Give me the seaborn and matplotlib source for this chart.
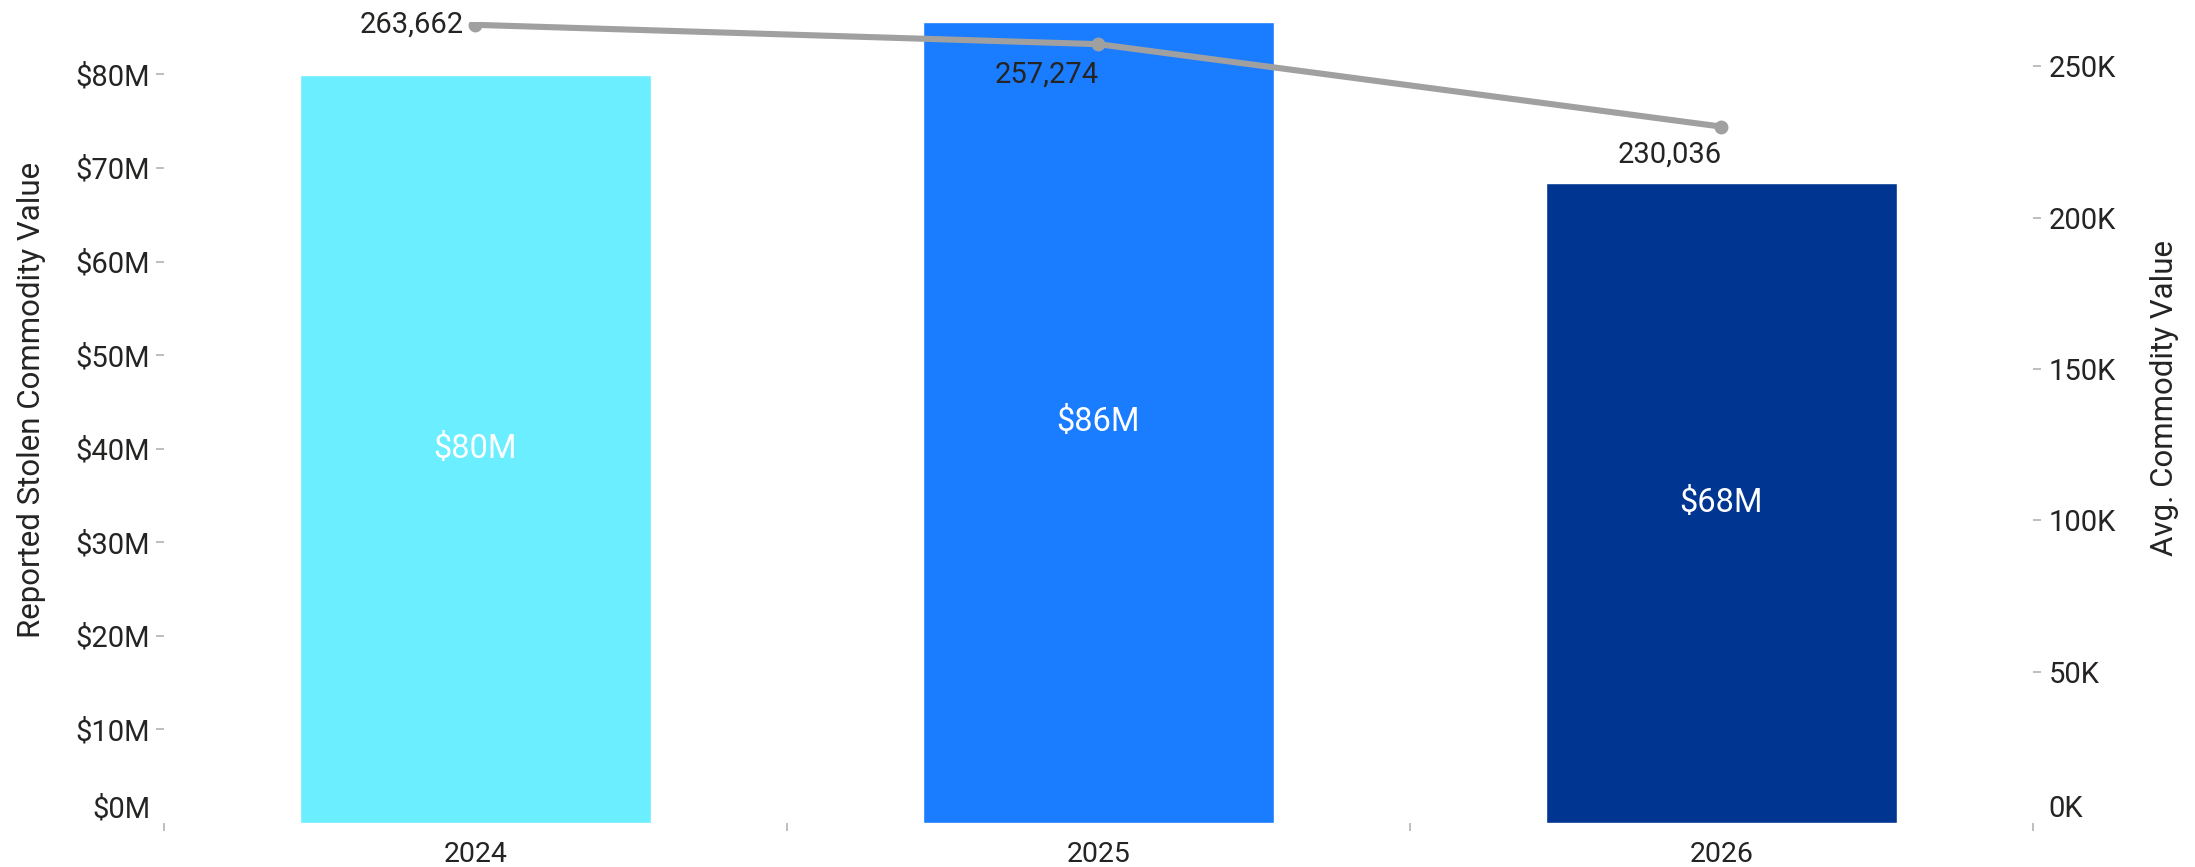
import matplotlib
matplotlib.use("Agg")
import matplotlib.pyplot as plt
import seaborn as sns
import numpy as np
import pandas as pd
from matplotlib.ticker import FuncFormatter, FixedLocator

# ---- data ----
years = ["2024", "2025", "2026"]
stolen_value_m = [79.9, 85.6, 68.4]          # $ millions
avg_value = [263662, 257274, 230036]
bar_labels = ["$80M", "$86M", "$68M"]
bar_colors = ["#6BEEFF", "#1A7CFF", "#003591"]
left_ticks_m = [0, 10, 20, 30, 40, 50, 60, 70, 80]
right_ticks_k = [0, 50, 100, 150, 200, 250]

sns.set_theme(style="white")
plt.rcParams["font.family"] = ["Roboto", "DejaVu Sans"]

TXT = "#252423"
TICKC = "#B3B3B3"

fig = plt.figure(figsize=(21.95, 8.67), dpi=100)
ax = fig.add_axes([164 / 2195, 1 - 823 / 867, (2033 - 164) / 2195, (823 - 22) / 867])

df = pd.DataFrame({"year": years, "value": stolen_value_m})
sns.barplot(data=df, x="year", y="value", hue="year", palette=bar_colors,
            legend=False, width=0.564, ax=ax, saturation=1)

ax.set_xlim(-0.5, 2.5)
ax.set_ylim(0, 85.6)
ax.yaxis.set_major_locator(FixedLocator(left_ticks_m))
ax.yaxis.set_major_formatter(FuncFormatter(lambda v, p: f"${v:.0f}M"))
for s in ax.spines.values():
    s.set_visible(False)

# bar value labels
for i, (v, lab) in enumerate(zip(stolen_value_m, bar_labels)):
    ax.text(i, v / 2, lab, ha="center", va="center", color="white",
            fontsize=23.5, fontweight="normal")

ax.tick_params(axis="y", which="major", length=6, width=1.2, color=TICKC,
               pad=4, labelsize=21, labelcolor=TXT, left=True, direction="out")
ax.tick_params(axis="x", which="major", length=0, pad=13, labelsize=20.5, labelcolor=TXT)
ax.xaxis.set_minor_locator(FixedLocator([-0.5, 0.5, 1.5, 2.5]))
ax.tick_params(axis="x", which="minor", length=6, width=1.2, color=TICKC, bottom=True)
ax.set_xlabel("")
ax.set_ylabel("Reported Stolen Commodity Value", fontsize=22.5, color=TXT)
ax.yaxis.set_label_coords((32 - 164) / 1869, (823 - 400) / 801)
ax.yaxis.label.set_va("center")

# right axis with line
ax2 = ax.twinx()
ax2.set_position(ax.get_position())
sns.lineplot(x=np.arange(len(years)), y=avg_value, ax=ax2, color="#A0A0A0",
             linewidth=4.4, marker="o", markersize=10, markeredgewidth=0)
ax2.set_xlim(-0.5, 2.5)
ax2.set_ylim(0, 264600)
ax2.yaxis.set_major_locator(FixedLocator([k * 1000 for k in right_ticks_k]))
ax2.yaxis.set_major_formatter(FuncFormatter(lambda v, p: f"{v / 1000:.0f}K"))
for s in ax2.spines.values():
    s.set_visible(False)
ax2.tick_params(axis="y", which="major", length=6, width=1.2, color=TICKC,
                pad=5, labelsize=21, labelcolor=TXT, right=True, direction="out")
ax2.set_ylabel("Avg. Commodity Value", fontsize=22.5, color=TXT)
ax2.yaxis.set_label_coords((2165 - 164) / 1869, (823 - 398) / 801)
ax2.yaxis.label.set_va("center")

# line labels
offsets = [(-12, 0, "right"), (0, -30, "right"), (0, -28, "right")]
for i, v in enumerate(avg_value):
    dx, dy, ha = offsets[i]
    ax2.annotate(f"{v:,}", (i, v), xytext=(dx, dy), textcoords="offset pixels",
                 ha=ha, va="center", fontsize=21, color=TXT)

# zero labels sit above the baseline, without tick marks
fig.canvas.draw()
for a in (ax, ax2):
    t0 = a.yaxis.get_major_ticks()[0]
    t0.tick1line.set_visible(False)
    t0.tick2line.set_visible(False)
    t0.label1.set_va("bottom")
    t0.label2.set_va("bottom")

fig.savefig("out.png", dpi=100, facecolor="white")
